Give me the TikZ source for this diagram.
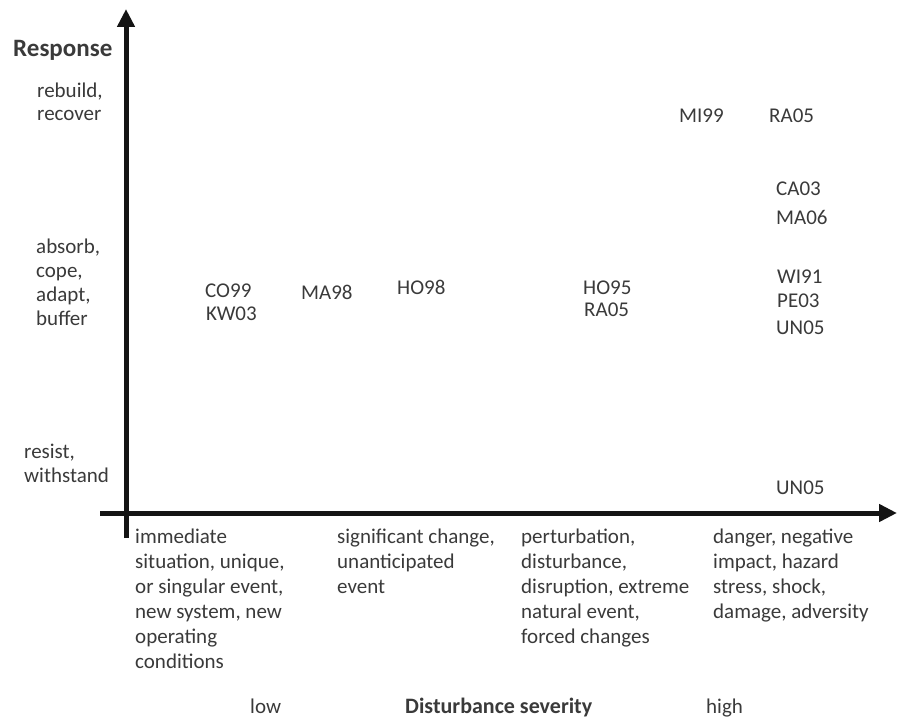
\documentclass[tikz,border=0pt]{standalone}
\usepackage{fontspec}
\setmainfont{Carlito}
\usetikzlibrary{arrows.meta}
\definecolor{txt}{HTML}{3A3A3A}
\definecolor{ax}{HTML}{141414}
\begin{document}
\begin{tikzpicture}[x=1pt,y=-1pt,
  lab/.style={anchor=base west,inner sep=0pt,align=left,text=txt,font=\fontsize{21}{25}\selectfont},
  ref/.style={anchor=base west,inner sep=0pt,text=txt,font=\fontsize{21}{25}\selectfont},
  ttl/.style={anchor=base west,inner sep=0pt,text=txt,font=\fontsize{22}{26}\selectfont\bfseries},
  axis/.style={line width=5pt,draw=ax,-{Triangle[length=18pt,width=17pt]}}]
\useasboundingbox (0,0) rectangle (897,717);
% axes
\coordinate (ybot) at (126,538);
\coordinate (ytop) at (126,9);
\coordinate (xleft) at (100,513);
\coordinate (xright) at (897,513);
\draw[axis] (ybot) -- (ytop);
\draw[axis] (xleft) -- (xright);
% y labels (anchor = baseline of last line)
\node[ttl,font=\fontsize{25}{28}\selectfont\bfseries] (resp) at (13,57) {Response};
\node[lab,font=\fontsize{21}{23}\selectfont] (rebuild) at (37,120) {rebuild,\\recover};
\node[lab,font=\fontsize{21}{24}\selectfont] (absorb) at (36,325) {absorb,\\cope,\\adapt,\\buffer};
\node[lab,font=\fontsize{21}{24}\selectfont] (resist) at (24,482) {resist,\\withstand};
% references
\node[ref] (co99) at (205,297) {CO99};
\node[ref] (kw03) at (206,320) {KW03};
\node[ref] (ma98) at (301,299) {MA98};
\node[ref] (ho98) at (397,294) {HO98};
\node[ref] (ho95) at (583,294) {HO95};
\node[ref] (ra05a) at (584,316) {RA05};
\node[ref] (mi99) at (679,122) {MI99};
\node[ref] (ra05b) at (769,122) {RA05};
\node[ref] (ca03) at (776,195) {CA03};
\node[ref] (ma06) at (776,224) {MA06};
\node[ref] (wi91) at (777,283) {WI91};
\node[ref] (pe03) at (777,307) {PE03};
\node[ref] (un05a) at (776,334) {UN05};
\node[ref] (un05b) at (776,494) {UN05};
% x labels (anchor = baseline of last line)
\node[lab] (imm) at (135,668) {immediate\\situation, unique,\\or singular event,\\new system, new\\operating\\conditions};
\node[lab] (sig) at (337,593) {significant change,\\unanticipated\\event};
\node[lab] (pert) at (521,643) {perturbation,\\disturbance,\\disruption, extreme\\natural event,\\forced changes};
\node[lab] (dang) at (713,618) {danger, negative\\impact, hazard\\stress, shock,\\damage, adversity};
\node[ref] (low) at (250,713) {low};
\node[ttl] (dist) at (405,713) {Disturbance severity};
\node[ref] (high) at (706,713) {high};
\end{tikzpicture}
\end{document}
